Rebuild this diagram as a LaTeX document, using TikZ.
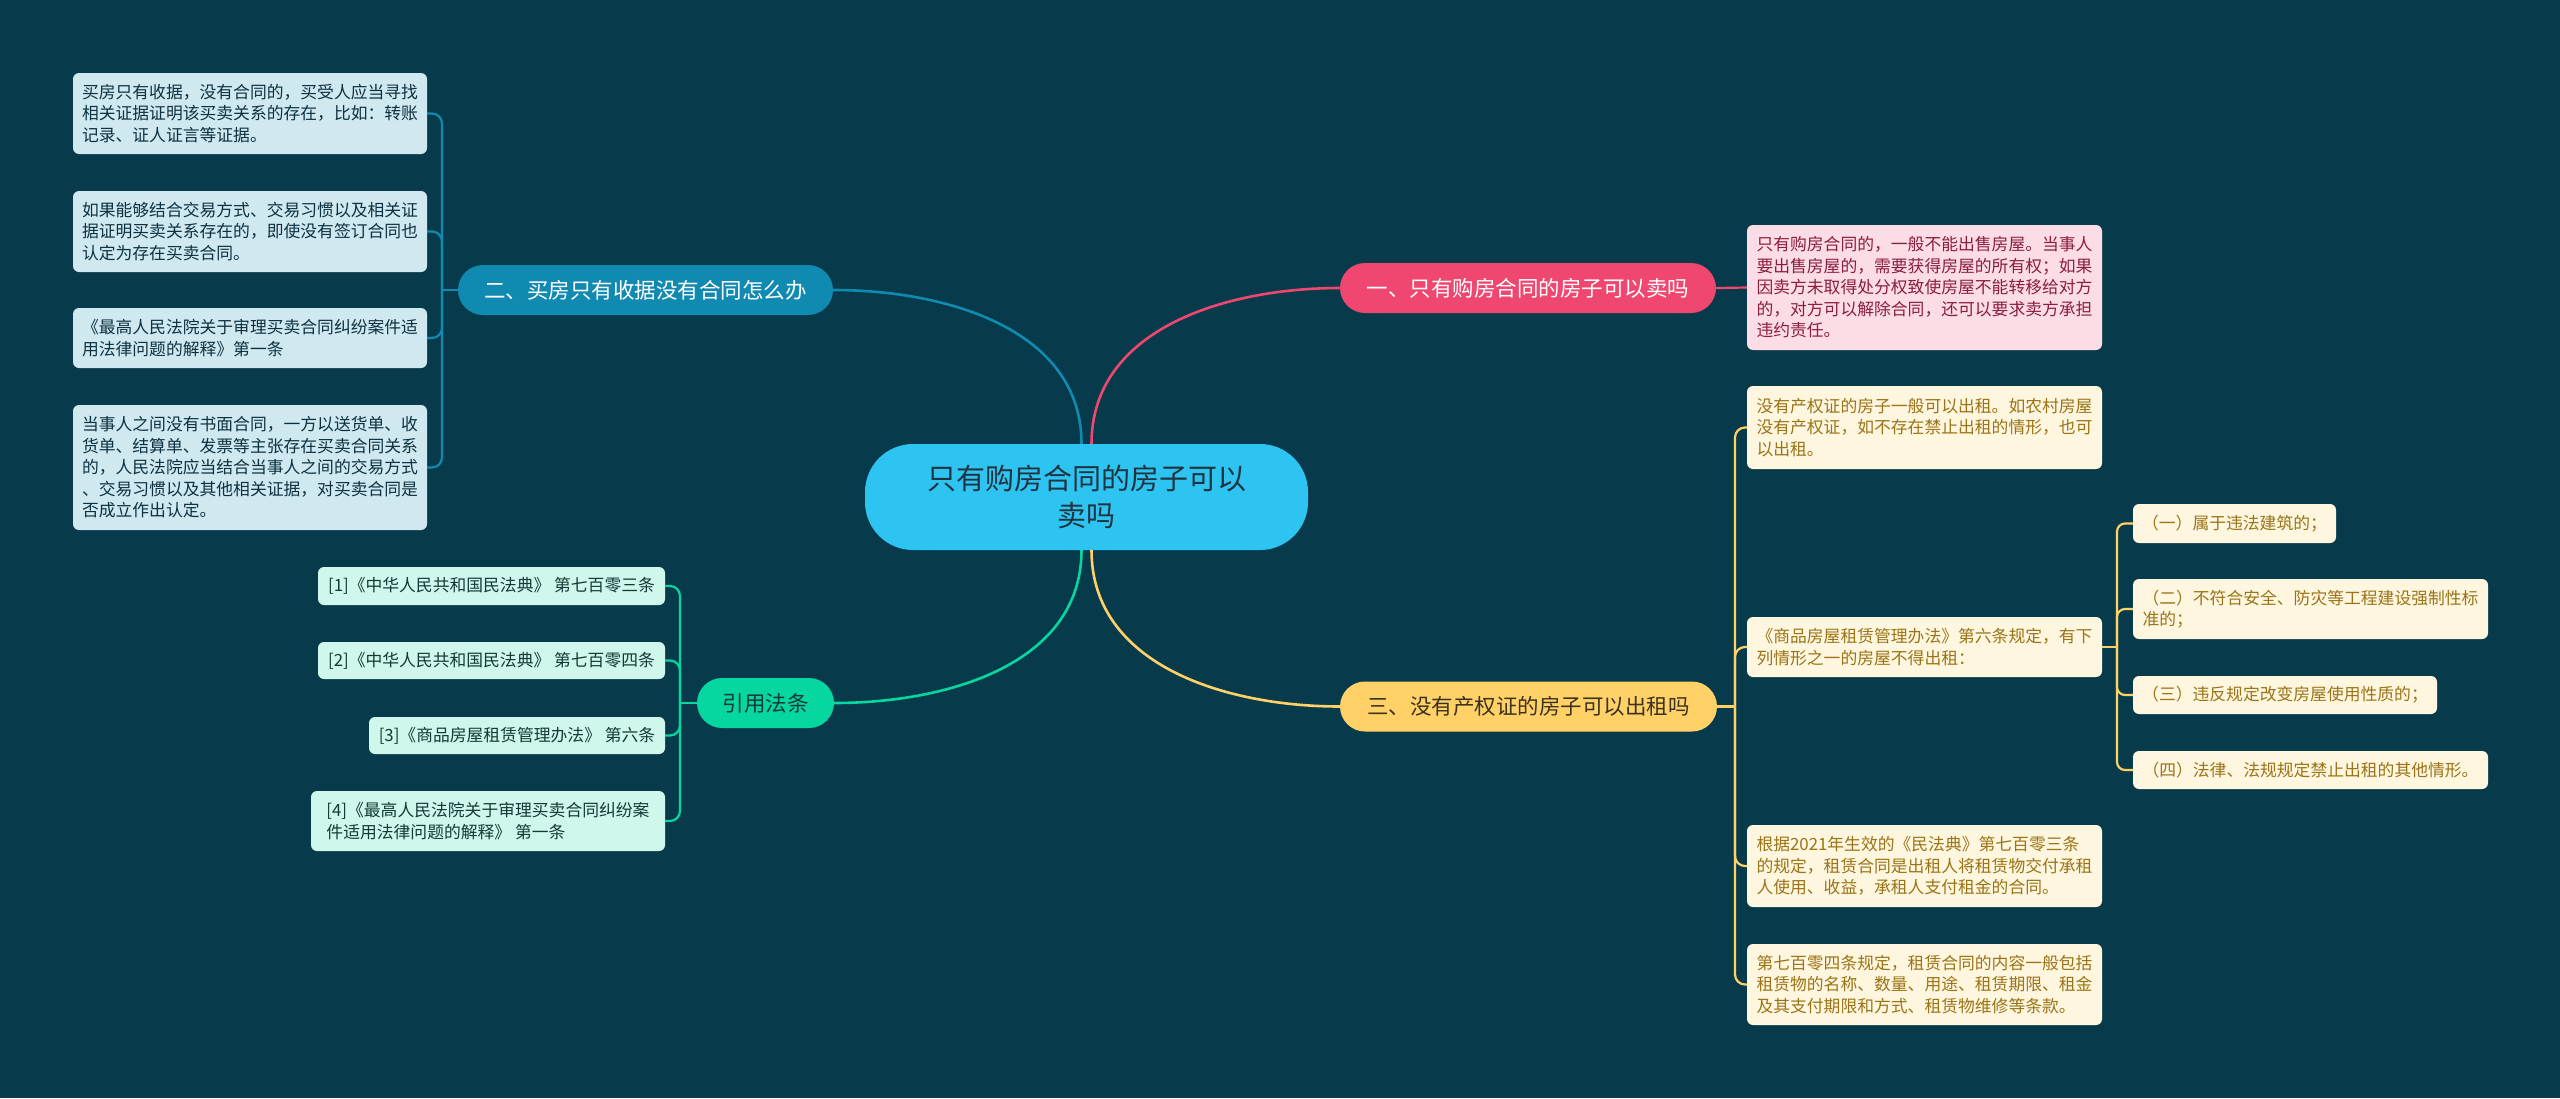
\documentclass[tikz,border=0pt]{standalone}
\usepackage{fontspec}
\setmainfont{Noto Sans CJK SC}
\definecolor{bg}{HTML}{073B4C}
\definecolor{cfill}{HTML}{2EC4F2}
\definecolor{ctext}{HTML}{1F3440}
\definecolor{pk}{HTML}{EF476F}
\definecolor{pkleaf}{HTML}{FCDDE5}
\definecolor{pktext}{HTML}{8B1E3F}
\definecolor{yl}{HTML}{FFD166}
\definecolor{ylleaf}{HTML}{FFF6DF}
\definecolor{yltext}{HTML}{9A7416}
\definecolor{ylbtext}{HTML}{3B3320}
\definecolor{bl}{HTML}{118AB2}
\definecolor{blleaf}{HTML}{D0E8F0}
\definecolor{bltext}{HTML}{0D3140}
\definecolor{gr}{HTML}{06D6A0}
\definecolor{grleaf}{HTML}{CFF7EC}
\definecolor{grtext}{HTML}{123A36}
\definecolor{grbtext}{HTML}{0E3B36}
\begin{document}
\begin{tikzpicture}[x=1pt,y=1pt,
  cnode/.style={fill=cfill, text=ctext, rounded corners=48pt, align=center,
    minimum width=443pt, minimum height=106pt, inner sep=0pt,
    font=\fontsize{29}{37}\selectfont},
  brnode/.style={rounded corners=25pt, minimum height=50pt, inner sep=0pt,
    font=\fontsize{21.5}{26}\selectfont},
  leaf/.style={rounded corners=6pt, inner xsep=8pt, inner ysep=3pt, align=left,
    font=\fontsize{16.8}{21.5}\selectfont},
  pleaf/.style={leaf, fill=pkleaf, text=pktext},
  yleaf/.style={leaf, fill=ylleaf, text=yltext},
  bleaf/.style={leaf, fill=blleaf, text=bltext},
  gleaf/.style={leaf, fill=grleaf, text=grtext},
  mainlink/.style={line width=2.6pt},
  sublink/.style={line width=2.2pt, rounded corners=10pt},
]
\path[fill=bg] (0,0) rectangle (2560,-1098);

% centre
\node[cnode] (c) at (1086.5,-497) {只有购房合同的房子可以\\卖吗};

% branches
\node[brnode, fill=pk, text=white, minimum width=376pt] (b1) at (1528,-288) {一、只有购房合同的房子可以卖吗};
\node[brnode, fill=yl, text=ylbtext, minimum width=377pt] (b3) at (1528.5,-706.5) {三、没有产权证的房子可以出租吗};
\node[brnode, fill=bl, text=white, minimum width=375pt] (b2) at (645.5,-290) {二、买房只有收据没有合同怎么办};
\node[brnode, fill=gr, text=grbtext, minimum width=137pt] (b4) at (765.5,-703) {引用法条};

% centre links
\draw[mainlink, bl] ([xshift=-5pt]c.north) to[out=90,in=0] (b2.east);
\draw[mainlink, pk] ([xshift=5pt]c.north) to[out=90,in=180] (b1.west);
\draw[mainlink, gr] ([xshift=-5pt]c.south) to[out=-90,in=0] (b4.east);
\draw[mainlink, yl] ([xshift=5pt]c.south) to[out=-90,in=180] (b3.west);

% pink leaf
\node[pleaf, minimum width=355pt, minimum height=125pt] (p1) at (1924.5,-287.5) {只有购房合同的，一般不能出售房屋。当事人\\要出售房屋的，需要获得房屋的所有权；如果\\因卖方未取得处分权致使房屋不能转移给对方\\的，对方可以解除合同，还可以要求卖方承担\\违约责任。};
\draw[sublink, pk] (b1.east) -- (p1.west);

% yellow leaves
\node[yleaf, minimum width=355pt, minimum height=83pt] (y1) at (1924.5,-427.5) {没有产权证的房子一般可以出租。如农村房屋\\没有产权证，如不存在禁止出租的情形，也可\\以出租。};
\node[yleaf, minimum width=355pt, minimum height=60pt] (y2) at (1924.5,-647) {《商品房屋租赁管理办法》第六条规定，有下\\列情形之一的房屋不得出租：};
\node[yleaf, minimum width=355pt, minimum height=82pt] (y3) at (1924.5,-866) {根据2021年生效的《民法典》第七百零三条\\的规定，租赁合同是出租人将租赁物交付承租\\人使用、收益，承租人支付租金的合同。};
\node[yleaf, minimum width=355pt, minimum height=81pt] (y4) at (1924.5,-984.5) {第七百零四条规定，租赁合同的内容一般包括\\租赁物的名称、数量、用途、租赁期限、租金\\及其支付期限和方式、租赁物维修等条款。};
\coordinate (ysp) at (1735,-706.5);
\draw[sublink, yl] (b3.east) -- (ysp);
\draw[sublink, yl] (ysp) |- (y1.west);
\draw[sublink, yl] (ysp) |- (y2.west);
\draw[sublink, yl] (ysp) |- (y3.west);
\draw[sublink, yl] (ysp) |- (y4.west);

% yellow sub-leaves
\node[yleaf, minimum width=203pt, minimum height=39pt] (s1) at (2234.5,-523.5) {（一）属于违法建筑的；};
\node[yleaf, minimum width=355pt, minimum height=60pt] (s2) at (2310.5,-609) {（二）不符合安全、防灾等工程建设强制性标\\准的；};
\node[yleaf, minimum width=304pt, minimum height=38pt] (s3) at (2285,-695) {（三）违反规定改变房屋使用性质的；};
\node[yleaf, minimum width=355pt, minimum height=38pt] (s4) at (2310.5,-770) {（四）法律、法规规定禁止出租的其他情形。};
\coordinate (ssp) at (2117,-647);
\draw[sublink, yl] (y2.east) -- (ssp);
\draw[sublink, yl, rounded corners=8pt] (ssp) |- (s1.west);
\draw[sublink, yl, rounded corners=8pt] (ssp) |- (s2.west);
\draw[sublink, yl, rounded corners=8pt] (ssp) |- (s3.west);
\draw[sublink, yl, rounded corners=8pt] (ssp) |- (s4.west);

% blue leaves
\node[bleaf, minimum width=354pt, minimum height=81pt] (l1) at (250,-113.5) {买房只有收据，没有合同的，买受人应当寻找\\相关证据证明该买卖关系的存在，比如：转账\\记录、证人证言等证据。};
\node[bleaf, minimum width=354pt, minimum height=81pt] (l2) at (250,-231.5) {如果能够结合交易方式、交易习惯以及相关证\\据证明买卖关系存在的，即使没有签订合同也\\认定为存在买卖合同。};
\node[bleaf, minimum width=354pt, minimum height=60pt] (l3) at (250,-338) {《最高人民法院关于审理买卖合同纠纷案件适\\用法律问题的解释》第一条};
\node[bleaf, minimum width=354pt, minimum height=125pt] (l4) at (250,-467.5) {当事人之间没有书面合同，一方以送货单、收\\货单、结算单、发票等主张存在买卖合同关系\\的，人民法院应当结合当事人之间的交易方式\\、交易习惯以及其他相关证据，对买卖合同是\\否成立作出认定。};
\coordinate (bsp) at (442,-290);
\draw[sublink, bl] (b2.west) -- (bsp);
\draw[sublink, bl] (bsp) |- (l1.east);
\draw[sublink, bl] (bsp) |- (l2.east);
\draw[sublink, bl] (bsp) |- (l3.east);
\draw[sublink, bl] (bsp) |- (l4.east);

% green leaves
\node[gleaf, minimum width=347pt, minimum height=38pt] (g1) at (491.5,-586) {[1]《中华人民共和国民法典》 第七百零三条};
\node[gleaf, minimum width=347pt, minimum height=37pt] (g2) at (491.5,-660.5) {[2]《中华人民共和国民法典》 第七百零四条};
\node[gleaf, minimum width=296pt, minimum height=37pt] (g3) at (517,-735.5) {[3]《商品房屋租赁管理办法》 第六条};
\node[gleaf, minimum width=354pt, minimum height=60pt] (g4) at (488,-821) {[4]《最高人民法院关于审理买卖合同纠纷案\\件适用法律问题的解释》 第一条};
\coordinate (gsp) at (680,-703);
\draw[sublink, gr] (b4.west) -- (gsp);
\draw[sublink, gr] (gsp) |- (g1.east);
\draw[sublink, gr] (gsp) |- (g2.east);
\draw[sublink, gr] (gsp) |- (g3.east);
\draw[sublink, gr] (gsp) |- (g4.east);
\end{tikzpicture}
\end{document}
